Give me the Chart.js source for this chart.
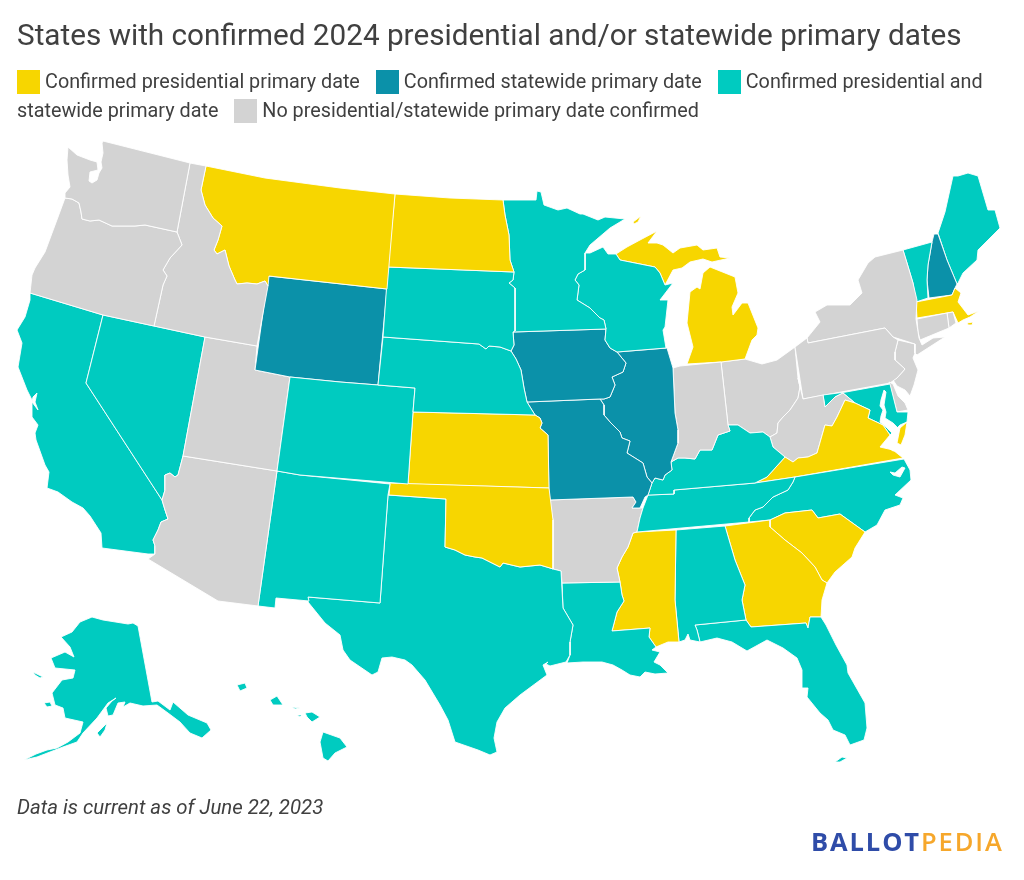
<!DOCTYPE html>
<html>
<head>
<meta charset="utf-8">
<title>States with confirmed 2024 primary dates</title>
<script src="https://cdn.jsdelivr.net/npm/chart.js@4"></script>
<style>
    body { margin: 0; background: #fff; font-family: Roboto, sans-serif; color: #404040; }
    #wrap { position: relative; width: 1024px; height: 880px; overflow: hidden; }
    #mapChart { position: absolute; left: 0; top: 0; }
    h1 { position: absolute; left: 17px; top: 17px; margin: 0; font-size: 29.7px; font-weight: 400; white-space: nowrap; }
    #legend { position: absolute; left: 17px; top: 67px; width: 990px; font-size: 19.8px; line-height: 29px; }
    #legend .swatch { display: inline-block; width: 23px; height: 24px; margin-right: 5px; vertical-align: -6px; }
    #legend .item { margin-right: 11px; }
    #note { position: absolute; left: 17px; top: 795px; font-size: 20.4px; font-style: italic; }
    #logo { position: absolute; left: 811px; top: 824px; font-family: "Open Sans", sans-serif; font-size: 25.5px; font-weight: 700; letter-spacing: 1.9px; color: #2f4ca8; white-space: nowrap; }
    #logo span { color: #f6a72b; font-weight: 600; }
</style>
</head>
<body>
<div id="wrap">
    <canvas id="mapChart" width="1024" height="880"></canvas>
    <h1 id="title"></h1>
    <div id="legend"></div>
    <div id="note"></div>
    <div id="logo">BALLOT<span>PEDIA</span></div>
</div>
<script>
const chartTitle = 'States with confirmed 2024 presidential and/or statewide primary dates';
const noteText = 'Data is current as of June 22, 2023';

const statusLabels = [
    'Confirmed presidential primary date',
    'Confirmed statewide primary date',
    'Confirmed presidential and statewide primary date',
    'No presidential/statewide primary date confirmed'
];
const statusColors = ['#f7d600', '#0b91a9', '#00cbc0', '#d3d3d3'];

const stateNames = [
    'WA', 'OR', 'ID', 'MT', 'ND', 'SD', 'NE', 'CO', 'WY', 'UT', 'AZ', 'NV', 'CA', 'NM', 'OK', 'KS', 'TX',
    'MN', 'WI', 'IA', 'MO', 'IL', 'IN', 'KY', 'TN', 'AR', 'LA', 'MS', 'AL', 'FL', 'GA', 'SC', 'NC', 'VA',
    'WV', 'MD', 'DE', 'PA', 'NY', 'NJ', 'CT', 'RI', 'MA', 'VT', 'NH', 'ME', 'MI', 'OH', 'AK', 'HI'
];

// index into statusLabels, same order as stateNames
const stateStatus = [
    3, 3, 3, 0, 0, 2, 2, 2, 1, 3, 3, 2, 2, 2, 0, 0, 2,
    2, 2, 1, 1, 1, 3, 2, 2, 3, 2, 0, 2, 2, 0, 0, 2, 0,
    3, 2, 3, 3, 3, 3, 3, 3, 0, 2, 1, 2, 0, 3, 2, 2
];

// outlines, in map units (0-1024 by 0-880), one or more rings per state
const stateOutlines = [
    [[[103,141],[190,163],[177,232],[145,225],[135,226],[122,226],[112,226],[99,220],[90,221],[82,219],[81,212],[79,203],[72,199],[65,198],[65,193],[70,187],[68,175],[67,160],[68,147],[77,155],[90,160],[97,162],[98,170],[90,172],[89,181],[92,183],[97,180],[99,173],[102,168],[101,162],[103,153],[102,143]]],
    [[[65,198],[72,199],[79,203],[81,212],[82,219],[90,221],[99,220],[112,226],[122,226],[135,226],[145,225],[177,232],[182,245],[170,258],[163,270],[167,276],[163,285],[154,326],[103,315],[30,293],[32,275],[35,268],[45,252],[58,217]]],
    [[[190,163],[206,166],[201,190],[205,205],[213,218],[222,226],[218,240],[214,250],[217,254],[225,250],[229,266],[235,280],[237,284],[247,283],[257,284],[265,281],[268,286],[257,346],[205,337],[154,326],[163,285],[167,276],[163,270],[170,258],[182,245],[177,232]]],
    [[[206,166],[265,178],[340,188],[395,194],[387,289],[269,276],[268,286],[265,281],[257,284],[247,283],[237,284],[235,280],[229,266],[225,250],[217,254],[214,250],[218,240],[222,226],[213,218],[205,205],[201,190]]],
    [[[395,194],[450,198],[503,200],[505,215],[509,235],[510,260],[514,272],[388,267]]],
    [[[388,267],[514,272],[513,280],[509,283],[515,288],[515,331],[513,332],[514,345],[511,351],[500,347],[489,346],[486,349],[479,344],[383,337]]],
    [[[383,337],[479,344],[486,349],[489,346],[500,347],[511,351],[516,359],[521,370],[524,388],[527,402],[535,415],[413,412],[415,388],[378,385]]],
    [[[290,377],[340,382],[378,385],[415,388],[413,412],[408,484],[300,475],[277,471]]],
    [[[268,276],[387,289],[378,385],[340,382],[290,377],[255,370]]],
    [[[205,337],[257,346],[255,370],[290,377],[277,471],[183,456]]],
    [[[183,456],[277,471],[258,606],[218,601],[148,559],[155,554],[155,546],[153,540],[158,530],[161,522],[168,519],[165,510],[162,500],[165,490],[165,475],[170,473],[175,477],[178,475]]],
    [[[103,315],[154,326],[205,337],[183,456],[178,475],[175,477],[170,473],[165,475],[165,490],[162,500],[86,383]]],
    [[[30,293],[103,315],[86,383],[162,500],[165,510],[168,519],[161,522],[158,530],[153,540],[155,546],[155,554],[148,554],[102,548],[101,533],[90,516],[83,508],[72,502],[58,492],[47,488],[49,472],[45,465],[36,440],[35,433],[38,425],[32,417],[32,400],[27,390],[18,367],[22,343],[17,330],[25,317],[30,300]]],
    [[[277,471],[300,475],[390,484],[388,495],[380,603],[308,597],[309,601],[276,598],[275,608],[258,606]]],
    [[[390,483],[549,488],[553,520],[553,569],[550,568],[540,565],[520,567],[503,563],[500,567],[490,562],[482,558],[475,557],[465,555],[455,550],[445,547],[446,499],[389,495]]],
    [[[413,412],[535,415],[540,418],[542,423],[540,428],[548,435],[549,488],[408,484]]],
    [[[388,495],[446,499],[445,547],[455,550],[465,555],[475,557],[482,558],[490,562],[500,567],[503,563],[520,567],[540,565],[550,568],[553,569],[561,571],[563,608],[573,625],[570,642],[570,655],[566,662],[550,666],[546,664],[548,662],[543,665],[547,675],[520,695],[505,708],[497,722],[494,738],[497,752],[490,755],[478,750],[455,742],[448,720],[440,705],[425,680],[412,665],[405,660],[392,657],[382,658],[378,672],[372,675],[350,660],[343,650],[340,635],[325,623],[308,602],[308,597],[380,603]]],
    [[[503,200],[536,200],[537,191],[541,192],[544,205],[558,210],[567,208],[580,214],[583,214],[598,220],[605,217],[625,219],[610,228],[590,245],[585,253],[585,270],[578,274],[575,280],[579,285],[577,300],[590,308],[600,318],[604,320],[606,329],[513,332],[515,331],[515,288],[509,283],[513,280],[514,272],[510,260],[509,235],[505,215]]],
    [[[585,253],[590,253],[603,247],[608,254],[616,254],[620,260],[655,267],[660,273],[665,285],[673,283],[660,300],[668,300],[665,327],[663,330],[666,348],[617,352],[610,348],[605,340],[606,329],[604,320],[600,318],[590,308],[577,300],[579,285],[575,280],[578,274],[585,270]]],
    [[[513,332],[606,329],[605,340],[610,348],[617,352],[626,363],[623,372],[612,377],[615,385],[610,397],[604,399],[600,399],[527,402],[524,388],[521,370],[516,359],[511,351],[514,345]]],
    [[[527,402],[600,399],[604,405],[604,415],[610,422],[620,432],[622,438],[630,441],[627,453],[643,463],[647,477],[652,483],[648,495],[645,497],[640,508],[632,508],[636,502],[633,497],[549,500],[548,435],[540,428],[542,423],[540,418],[535,415]]],
    [[[617,352],[667,348],[673,368],[675,413],[678,430],[678,443],[671,462],[672,470],[665,475],[663,480],[655,478],[652,483],[647,477],[643,463],[627,453],[630,441],[622,438],[620,432],[610,422],[604,415],[604,405],[600,399],[604,399],[610,397],[615,385],[612,377],[623,372],[626,363]]],
    [[[673,368],[680,366],[721,362],[728,425],[730,431],[718,435],[712,450],[700,450],[695,459],[685,458],[678,458],[671,462],[678,443],[678,430],[675,413]]],
    [[[652,483],[655,478],[663,480],[665,475],[672,470],[671,462],[678,458],[685,458],[695,459],[700,450],[712,450],[718,435],[730,431],[728,425],[738,425],[750,433],[763,432],[770,437],[773,447],[785,457],[767,477],[755,483],[674,490],[674,494],[650,495],[648,495]]],
    [[[648,495],[674,494],[674,490],[755,483],[795,477],[793,482],[788,490],[773,497],[763,507],[755,510],[749,518],[749,522],[637,532],[640,518],[643,508]]],
    [[[549,500],[633,497],[636,502],[632,508],[643,508],[640,518],[637,532],[633,533],[628,547],[622,557],[617,568],[620,582],[562,583],[561,571],[553,569],[553,520]]],
    [[[562,583],[620,582],[622,595],[624,601],[617,612],[612,631],[650,628],[649,637],[656,647],[652,650],[660,652],[654,662],[660,665],[668,673],[655,674],[645,672],[640,677],[630,675],[622,670],[613,665],[602,662],[583,662],[567,663],[570,655],[570,642],[573,625],[563,608]]],
    [[[637,532],[676,530],[675,600],[679,642],[668,642],[656,647],[649,637],[650,628],[612,631],[617,612],[624,601],[622,595],[620,582],[617,568],[622,557],[628,547],[633,533]]],
    [[[676,530],[725,526],[735,560],[745,585],[742,600],[746,620],[695,625],[697,630],[700,642],[690,640],[688,634],[685,640],[679,642],[675,600]]],
    [[[695,625],[746,620],[751,627],[806,623],[808,628],[810,617],[821,617],[826,625],[836,645],[847,665],[848,673],[865,703],[867,728],[864,740],[850,745],[845,735],[833,730],[828,720],[820,713],[807,697],[808,688],[802,688],[802,670],[797,658],[783,648],[767,640],[747,651],[732,642],[717,638],[700,642],[697,630]],
     [[835,762],[842,757],[847,758],[840,762]]],
    [[[725,526],[770,520],[770,527],[785,540],[802,553],[815,567],[822,580],[827,583],[822,600],[821,617],[810,617],[808,628],[806,623],[751,627],[746,620],[742,600],[745,585],[735,560]]],
    [[[770,520],[785,513],[812,510],[818,518],[840,514],[865,532],[855,548],[852,557],[835,572],[827,583],[822,580],[815,567],[802,553],[785,540],[770,527]]],
    [[[795,477],[904,459],[910,470],[911,480],[895,495],[903,498],[900,505],[885,510],[877,525],[865,532],[840,514],[818,518],[812,510],[785,513],[770,520],[749,522],[749,518],[755,510],[763,507],[773,497],[788,490],[793,482]]],
    [[[755,483],[767,477],[785,457],[793,462],[798,458],[808,457],[817,453],[825,425],[832,426],[837,417],[845,400],[855,403],[870,410],[868,418],[883,425],[890,435],[880,447],[893,450],[903,458],[795,477]],
     [[900,428],[907,422],[905,435],[901,445],[897,443]]],
    [[[798,378],[803,399],[823,395],[825,407],[835,397],[843,393],[855,403],[845,400],[837,417],[832,426],[825,425],[817,453],[808,457],[798,458],[793,462],[785,457],[773,447],[770,437],[777,433],[778,423],[783,417],[790,410],[798,398],[800,387]]],
    [[[823,395],[846,392],[890,384],[897,412],[908,412],[907,422],[900,425],[890,435],[883,425],[868,418],[870,410],[855,403],[843,393],[835,397],[825,407]]],
    [[[889,382],[893,384],[898,396],[905,403],[908,410],[897,412]]],
    [[[795,347],[807,338],[808,343],[885,328],[893,337],[898,340],[895,352],[895,360],[905,369],[897,378],[890,383],[803,399]]],
    [[[903,250],[875,257],[868,263],[858,280],[862,293],[850,305],[840,305],[827,305],[815,312],[820,322],[807,338],[808,343],[885,328],[893,337],[915,344],[915,353],[917,355],[945,337],[933,338],[922,345],[919,338],[916,319],[917,300],[913,283],[907,263]]],
    [[[898,340],[915,344],[915,353],[913,358],[918,370],[914,385],[910,396],[905,390],[897,386],[893,380],[897,378],[905,369],[895,360],[895,352]]],
    [[[917,319],[947,313],[949,328],[920,340],[918,332]]],
    [[[947,313],[953,312],[956,323],[949,328]]],
    [[[916,302],[952,295],[955,288],[961,293],[958,302],[968,315],[979,311],[970,317],[963,320],[958,323],[953,312],[917,318]],
     [[967,323],[973,322],[972,325],[968,325]]],
    [[[903,250],[932,242],[928,265],[927,280],[928,298],[916,302],[913,283],[907,263]]],
    [[[932,242],[934,234],[938,234],[947,260],[957,284],[955,288],[952,295],[929,298],[927,280],[928,265]]],
    [[[938,233],[945,212],[953,176],[958,176],[968,173],[978,176],[988,210],[995,210],[1000,228],[985,243],[978,250],[977,260],[963,273],[958,283],[957,284],[947,260]]],
    [[[616,254],[627,247],[640,240],[657,231],[648,243],[657,243],[663,245],[673,253],[680,248],[697,245],[703,250],[717,248],[720,257],[730,258],[712,262],[703,259],[690,262],[682,268],[673,270],[665,285],[660,273],[655,267],[620,260]],
     [[687,364],[693,347],[687,323],[690,292],[697,287],[700,289],[703,273],[710,267],[735,277],[738,293],[732,307],[733,315],[742,303],[748,303],[758,328],[757,335],[752,340],[745,359],[721,362]],
     [[633,222],[641,216],[638,222],[634,224]]],
    [[[721,362],[745,359],[762,364],[777,360],[795,347],[798,378],[800,387],[798,398],[790,410],[783,417],[778,423],[777,433],[770,437],[763,432],[750,433],[738,425],[728,425]]],
    [[[133,623],[138,626],[152,702],[158,701],[170,710],[173,702],[188,715],[207,723],[211,730],[202,738],[190,733],[180,722],[168,713],[157,705],[143,706],[130,703],[123,707],[125,702],[118,703],[113,715],[108,716],[106,708],[112,701],[116,698],[108,703],[97,718],[83,733],[77,742],[63,747],[50,752],[37,757],[24,760],[36,754],[47,750],[57,748],[68,742],[80,733],[83,722],[65,718],[63,708],[55,705],[52,693],[62,680],[73,678],[75,670],[55,668],[51,658],[65,652],[74,657],[70,647],[61,637],[72,632],[80,622],[92,617],[103,620],[128,624]],
     [[97,733],[107,723],[105,730],[100,737]],
     [[44,703],[50,702],[52,706],[47,707]],
     [[33,672],[43,677],[40,678],[35,675]],
     [[178,713],[184,718],[190,728],[195,735],[188,731],[180,722]]],
    [[[237,685],[245,683],[247,688],[240,691]],
     [[270,700],[277,696],[283,705],[273,705]],
     [[292,707],[300,708],[295,709]],
     [[297,715],[302,715],[300,717]],
     [[305,713],[312,712],[320,717],[312,722],[307,717]],
     [[323,732],[340,738],[347,747],[335,753],[328,761],[323,758],[320,742]]]
];

// bays and sounds cut out of the land
const waterOutlines = [
    [[93,148],[100,147],[101,151],[95,152]],
    [[33,397],[37,393],[35,402],[38,410],[32,402]],
    [[881,400],[884,390],[886,392],[884,405],[886,412],[885,418],[893,423],[898,428],[896,445],[900,450],[893,451],[886,446],[893,444],[892,433],[886,427],[880,422],[881,416],[883,410],[880,406]],
    [[890,472],[895,473],[902,467],[905,468],[900,477],[893,475]]
];

function ringToPoints(ring) {
    const points = ring.map(function(p) {
        return { x: p[0], y: p[1] };
    });
    points.push({ x: ring[0][0], y: ring[0][1] });
    return points;
}

function ringDataset(label, ring, color, order) {
    return {
        label: label,
        data: ringToPoints(ring),
        showLine: true,
        fill: 'shape',
        tension: 0,
        backgroundColor: color,
        borderColor: '#ffffff',
        borderWidth: 0.9,
        borderJoinStyle: 'round',
        pointRadius: 0,
        order: order
    };
}

document.addEventListener('DOMContentLoaded', function() {
    document.getElementById('title').textContent = chartTitle;
    document.getElementById('note').textContent = noteText;

    // Legend, in the picture's order
    const legend = document.getElementById('legend');
    statusLabels.forEach(function(label, i) {
        const item = document.createElement('span');
        item.className = 'item';
        const swatch = document.createElement('span');
        swatch.className = 'swatch';
        swatch.style.background = statusColors[i];
        item.appendChild(swatch);
        item.appendChild(document.createTextNode(label));
        legend.appendChild(item);
        legend.appendChild(document.createTextNode(' '));
    });

    const datasets = [];
    stateOutlines.forEach(function(rings, i) {
        rings.forEach(function(ring) {
            datasets.push(ringDataset(stateNames[i], ring, statusColors[stateStatus[i]], 1));
        });
    });
    waterOutlines.forEach(function(ring) {
        datasets.push(ringDataset('water', ring, '#ffffff', 0));
    });

    new Chart(document.getElementById('mapChart'), {
        type: 'scatter',
        data: { datasets: datasets },
        options: {
            responsive: false,
            animation: false,
            layout: { padding: 0 },
            plugins: {
                legend: { display: false },
                tooltip: { enabled: false },
                title: { display: false }
            },
            scales: {
                x: { type: 'linear', min: 0, max: 1024, display: false },
                y: { type: 'linear', min: 0, max: 880, reverse: true, display: false }
            }
        }
    });
});
</script>
</body>
</html>
